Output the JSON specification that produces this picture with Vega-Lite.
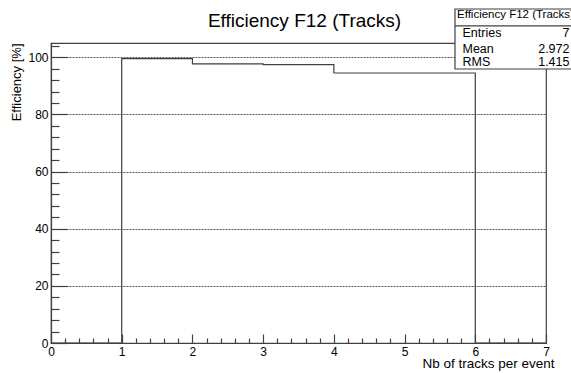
{
  "$schema": "https://vega.github.io/schema/vega-lite/v6.json",
  "width": 495,
  "height": 300,
  "autosize": {"type": "none"},
  "padding": {"left": 51, "top": 43, "right": 25, "bottom": 30},
  "background": "white",
  "config": {
    "font": "Liberation Sans",
    "view": {"stroke": "#404040", "strokeWidth": 1.2},
    "axis": {"domainColor": "#404040", "domainWidth": 1.2, "tickColor": "#404040", "tickWidth": 1.2, "labelColor": "#000", "titleColor": "#000", "labelFont": "Liberation Sans", "titleFont": "Liberation Sans", "titleFontWeight": "normal", "labelFontSize": 12, "titleFontSize": 13}
  },
  "title": {"text": "Efficiency F12 (Tracks)", "font": "Liberation Sans", "fontSize": 19, "fontWeight": "normal", "color": "#000", "anchor": "middle", "dx": 6, "offset": -37.5, "baseline": "alphabetic"},
  "layer": [
    {
      "data": {"values": [
        {"tracks": 0, "eff": 0},
        {"tracks": 1, "eff": 99.5},
        {"tracks": 2, "eff": 97.7},
        {"tracks": 3, "eff": 97.4},
        {"tracks": 4, "eff": 94.5},
        {"tracks": 5, "eff": 94.5},
        {"tracks": 6, "eff": 0},
        {"tracks": 7, "eff": 0}
      ]},
      "mark": {"type": "line", "interpolate": "step-after", "color": "#404040", "strokeWidth": 1.2},
      "encoding": {
        "x": {"field": "tracks", "type": "quantitative", "scale": {"domain": [0, 7], "nice": false, "zero": false},
          "axis": {"title": "Nb of tracks per event", "titleFontSize": 13.5, "titleAnchor": "end", "titleAlign": "right", "titleBaseline": "alphabetic", "titleX": 503, "titleY": 24.5, "grid": false, "tickCount": 1000,
            "values": [0,0.2,0.4,0.6,0.8,1,1.2,1.4,1.6,1.8,2,2.2,2.4,2.6,2.8,3,3.2,3.4,3.6,3.8,4,4.2,4.4,4.6,4.8,5,5.2,5.4,5.6,5.8,6,6.2,6.4,6.6,6.8,7],
            "labelExpr": "datum.value % 1 === 0 ? format(datum.value, 'd') : ''",
            "tickSize": {"condition": {"test": "datum.value % 1 === 0", "value": -9}, "value": -5},
            "labelPadding": 12, "labelFlush": false, "labelOverlap": false}},
        "y": {"field": "eff", "type": "quantitative", "scale": {"domain": [0, 105], "nice": false},
          "axis": {"title": "Efficiency [%]", "titleAnchor": "end", "titleAngle": -90, "titleAlign": "right", "titleBaseline": "alphabetic", "titleX": -31, "titleY": 0, "tickCount": 1000,
            "values": [0,4,8,12,16,20,24,28,32,36,40,44,48,52,56,60,64,68,72,76,80,84,88,92,96,100,104],
            "labelExpr": "datum.value % 20 === 0 ? format(datum.value, 'd') : ''",
            "tickSize": {"condition": {"test": "datum.value % 20 === 0", "value": -16}, "value": -8},
            "grid": true, "gridColor": "#555", "gridDash": [2, 1],
            "gridOpacity": {"condition": {"test": "datum.value % 20 === 0 && datum.value > 0", "value": 1}, "value": 0},
            "labelPadding": 19, "labelFlush": false, "labelOverlap": false}}
      }
    },
    {
      "data": {"values": [{}]},
      "mark": {"type": "rect", "fill": "white", "stroke": "#404040", "strokeWidth": 1.2},
      "encoding": {"x": {"datum": 5.713}, "x2": {"datum": 7.6}, "y": {"datum": 116.9}, "y2": {"datum": 95.9}}
    },
    {
      "data": {"values": [{}]},
      "mark": {"type": "rule", "color": "#404040", "strokeWidth": 1.2},
      "encoding": {"x": {"datum": 5.713}, "x2": {"datum": 7.6}, "y": {"datum": 111.0}}
    },
    {
      "data": {"values": [{}]},
      "mark": {"type": "text", "align": "left", "baseline": "alphabetic", "fontSize": 11.5, "font": "Liberation Sans", "color": "#000", "text": "Efficiency F12 (Tracks)"},
      "encoding": {"x": {"datum": 5.741}, "y": {"datum": 113.75}}
    },
    {
      "data": {"values": [
        {"stat": "Entries", "val": "7", "pos": 107.1},
        {"stat": "Mean", "val": "2.972", "pos": 101.5},
        {"stat": "RMS", "val": "1.415", "pos": 97.0}
      ]},
      "layer": [
        {
          "mark": {"type": "text", "align": "left", "baseline": "alphabetic", "fontSize": 12.5, "font": "Liberation Sans", "color": "#000"},
          "encoding": {"x": {"datum": 5.819}, "y": {"field": "pos", "type": "quantitative"}, "text": {"field": "stat"}}
        },
        {
          "mark": {"type": "text", "align": "right", "baseline": "alphabetic", "fontSize": 12.5, "font": "Liberation Sans", "color": "#000"},
          "encoding": {"x": {"datum": 7.332}, "y": {"field": "pos", "type": "quantitative"}, "text": {"field": "val"}}
        }
      ]
    }
  ]
}
